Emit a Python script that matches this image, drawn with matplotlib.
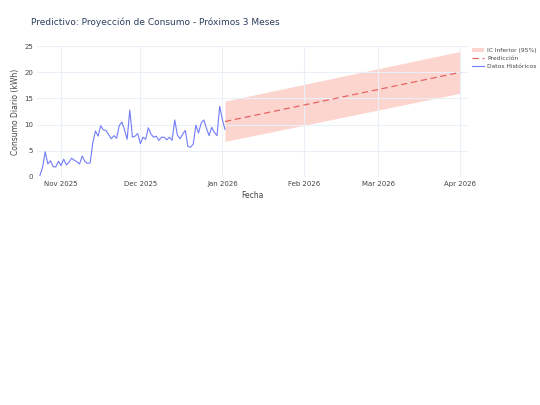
import numpy as np
import pandas as pd
import matplotlib.pyplot as plt
import matplotlib.dates as mdates

hist_start = "2025-10-24"
hist_values = [0.3, 1.8, 4.8, 2.5, 3.1, 2.0, 1.9, 3.0,
               2.2, 3.4, 2.3, 2.8, 3.6, 3.2, 2.9, 2.5, 4.0, 3.0, 2.6, 2.7, 6.5, 8.8, 7.8, 9.8,
               9.0, 8.9, 8.1, 7.3, 7.9, 7.4, 9.8, 10.5, 9.0, 7.2, 12.8, 7.6, 7.8, 8.3,
               6.4, 7.6, 7.2, 9.4, 8.2, 7.6, 7.8, 7.0, 7.6, 7.6, 7.1, 7.6, 7.0, 10.9, 8.0, 7.3,
               8.2, 8.9, 5.8, 5.7, 6.3, 9.9, 8.4, 10.3, 10.9, 9.3, 7.9, 9.5, 8.5, 7.9, 13.5,
               11.0, 9.1]
pred_dates = ["2026-01-02", "2026-04-01"]
pred_values = [10.6, 20.0]
ci_low = [6.8, 16.0]
ci_high = [14.5, 24.0]

hist_dates = pd.date_range(hist_start, periods=len(hist_values), freq="D")
pd_dates = pd.to_datetime(pred_dates)

fig = plt.figure(figsize=(5.4, 4.05), dpi=100)
ax = fig.add_axes([0.069, 0.563, 0.798, 0.323])
grid_c = "#ebf0f8"
ax.fill_between(pd_dates, ci_low, ci_high, color="#fcd5cf", lw=0, label="IC Inferior (95%)")
ax.plot(pd_dates, pred_values, color="#e45756", ls=(0, (5, 3)), lw=0.9, alpha=0.9, label="Predicción")
ax.plot(hist_dates, hist_values, color="#636efa", lw=0.8, alpha=0.9, label="Datos Históricos")

ax.set_ylim(0, 25)
ax.set_xlim(pd.Timestamp("2025-10-23"), pd.Timestamp("2026-04-04"))
ax.set_yticks([0, 5, 10, 15, 20, 25])
ax.xaxis.set_major_locator(mdates.MonthLocator())
ax.xaxis.set_major_formatter(mdates.DateFormatter("%b %Y"))
ax.grid(True, color=grid_c, lw=0.8)
for s in ax.spines.values():
    s.set_visible(False)
ax.tick_params(length=0, labelsize=5, colors="#444444", pad=3)
ax.set_xlabel("Fecha", fontsize=5.5, color="#444444", labelpad=3)
ax.set_ylabel("Consumo Diario (kWh)", fontsize=5.5, color="#444444", labelpad=3)
fig.text(0.057, 0.945, "Predictivo: Proyección de Consumo - Próximos 3 Meses",
         fontsize=6.5, color="#2a3f5f", va="center")
ax.legend(loc="upper left", bbox_to_anchor=(1.0, 1.02), frameon=False, fontsize=4.3,
          handlelength=2.0, handletextpad=0.5, labelcolor="#444444", borderaxespad=0.3)
fig.savefig("out.png", dpi=100)
